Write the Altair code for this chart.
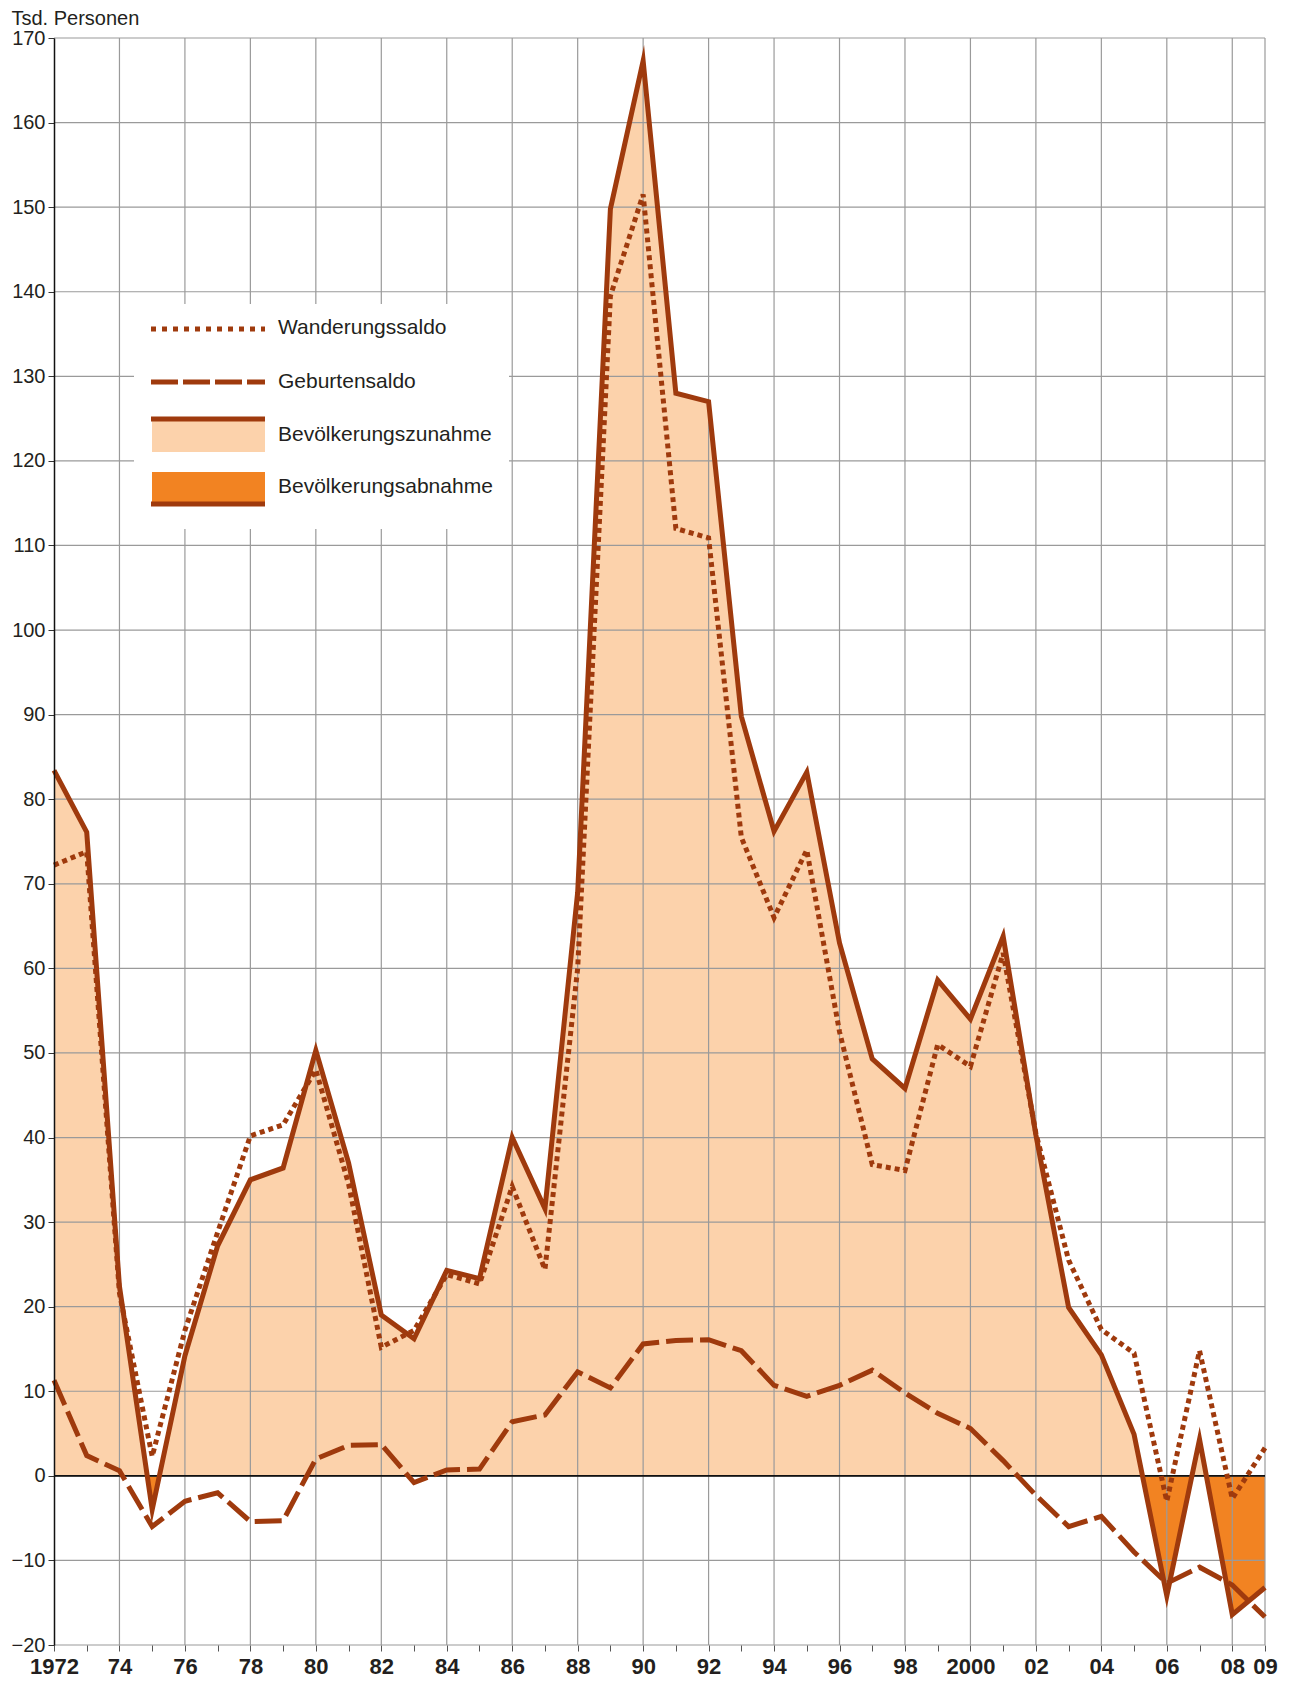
import altair as alt
import pandas as pd

# ---------------- data (Tsd. Personen) ----------------
years = list(range(1972, 2010))

bevoelkerung = [83.4, 76.1, 22.4, -4.0, 14.2, 27.2, 35.0, 36.4, 50.3, 37.0,
                19.0, 16.2, 24.3, 23.3, 40.0, 31.6, 69.0, 149.8, 167.3, 128.0,
                127.0, 89.8, 76.2, 83.2, 63.0, 49.3, 45.8, 58.6, 54.0, 63.8,
                40.3, 19.9, 14.3, 4.9, -14.2, 4.3, -16.4, -13.2]

wanderung = [72.2, 73.8, 21.6, 2.3, 17.2, 28.8, 40.2, 41.5, 48.0, 34.5,
             15.2, 17.2, 23.8, 22.7, 34.2, 24.4, 60.0, 139.5, 151.5, 112.0,
             110.9, 75.5, 66.0, 74.0, 52.5, 36.8, 36.1, 51.0, 48.4, 61.8,
             40.5, 25.5, 17.3, 14.5, -3.0, 14.8, -2.7, 3.3]

geburten = [11.3, 2.4, 0.6, -6.0, -3.0, -2.0, -5.4, -5.3, 2.0, 3.6,
            3.7, -0.8, 0.7, 0.8, 6.4, 7.2, 12.3, 10.4, 15.6, 16.0,
            16.1, 14.8, 10.7, 9.4, 10.7, 12.5, 9.8, 7.4, 5.6, 1.8,
            -2.3, -6.0, -4.8, -9.0, -12.7, -10.8, -12.9, -16.7]

y_ticks = list(range(-20, 171, 10))
grid_years = [y for y in years if y % 2 == 0 and y > 1972] + [2009]
legend_labels = ["Wanderungssaldo", "Geburtensaldo",
                 "Bevölkerungszunahme", "Bevölkerungsabnahme"]

df = pd.DataFrame({"Jahr": years, "Veraenderung": bevoelkerung,
                   "Wanderungssaldo": wanderung, "Geburtensaldo": geburten})

# ---------------- styles ----------------
LINE = "#9F3A0D"
PEACH = "#FCD2AB"
ORANGE = "#F28322"
GRID = "#9a9a9a"
TEXT = "#231f20"
FONT = "Liberation Sans"
LW = 5

x_scale = alt.Scale(domain=[1972, 2009], nice=False, zero=False)
y_scale = alt.Scale(domain=[-20, 170], nice=False, zero=False)

label_expr = ("datum.value == 1972 || datum.value == 2000 ? toString(datum.value) : "
              "(datum.value % 2 == 0 || datum.value == 2009) ? "
              "substring(toString(datum.value), 2, 4) : ''")

x_axis = alt.Axis(values=years, labelExpr=label_expr, grid=False, domain=False,
                  ticks=True, tickSize=6, tickColor="#555", tickWidth=1,
                  labelFont=FONT, labelFontSize=22, labelFontWeight="bold",
                  labelColor=TEXT, labelPadding=22, labelBaseline="alphabetic",
                  labelOverlap=False, labelFlush=False, title=None, zindex=1)

y_axis = alt.Axis(values=y_ticks, grid=False, domain=True, domainColor="#111",
                  domainWidth=1.5, ticks=True, tickSize=6, tickColor="#333",
                  tickWidth=1, labelFont=FONT, labelFontSize=20, labelColor=TEXT,
                  labelPadding=3, title="Tsd. Personen", titleAngle=0,
                  titleX=-43, titleY=-14, titleAlign="left",
                  titleBaseline="alphabetic", titleFont=FONT, titleFontSize=20,
                  titleFontWeight="normal", titleColor=TEXT, zindex=1)

X = alt.X("Jahr:Q", scale=x_scale, axis=x_axis)

# gradient that switches from peach (above 0) to orange (below 0)
top = max(max(bevoelkerung), 0)
bot = min(min(bevoelkerung), 0)
f = top / (top - bot)
fill_grad = alt.Gradient(
    gradient="linear", x1=0, x2=0, y1=0, y2=1,
    stops=[alt.GradientStop(color=PEACH, offset=0),
           alt.GradientStop(color=PEACH, offset=f),
           alt.GradientStop(color=ORANGE, offset=f),
           alt.GradientStop(color=ORANGE, offset=1)])

area = alt.Chart(df).mark_area(color=fill_grad, line=False).encode(
    x=X,
    y=alt.Y("Veraenderung:Q", scale=y_scale, axis=y_axis),
    y2=alt.datum(0),
)

hgrid = alt.Chart(pd.DataFrame({"v": y_ticks})).mark_rule(
    color=GRID, strokeWidth=1.2).encode(
    y=alt.Y("v:Q", scale=y_scale, axis=y_axis))

vgrid = alt.Chart(pd.DataFrame({"g": grid_years})).mark_rule(
    color=GRID, strokeWidth=1.2).encode(
    x=alt.X("g:Q", scale=x_scale, axis=x_axis))

zero = alt.Chart(pd.DataFrame({"z": [0]})).mark_rule(
    color="#111", strokeWidth=1.6).encode(
    y=alt.Y("z:Q", scale=y_scale, axis=y_axis))

dashed = alt.Chart(df).mark_line(color=LINE, strokeWidth=LW, strokeDash=[27, 7],
                                 strokeJoin="miter", strokeCap="butt").encode(
    x=X, y=alt.Y("Geburtensaldo:Q", scale=y_scale, axis=y_axis))

dotted = alt.Chart(df).mark_line(color=LINE, strokeWidth=LW, strokeDash=[5, 4],
                                 strokeJoin="miter", strokeCap="butt").encode(
    x=X, y=alt.Y("Wanderungssaldo:Q", scale=y_scale, axis=y_axis))

solid = alt.Chart(df).mark_line(color=LINE, strokeWidth=LW,
                                strokeJoin="miter", strokeMiterLimit=10).encode(
    x=X, y=alt.Y("Veraenderung:Q", scale=y_scale, axis=y_axis))

# ---------------- custom legend ----------------
one = alt.Data(values=[{"k": 1}])

leg_box = alt.Chart(one).mark_rect(color="white").encode(
    x=alt.value(80), x2=alt.value(455), y=alt.value(266), y2=alt.value(491))

leg_dot = alt.Chart(one).mark_rule(color=LINE, strokeWidth=LW,
                                   strokeDash=[5, 6], strokeCap="butt").encode(
    x=alt.value(97), x2=alt.value(211), y=alt.value(291))

leg_dash = alt.Chart(one).mark_rule(color=LINE, strokeWidth=LW,
                                    strokeDash=[27, 5], strokeCap="butt").encode(
    x=alt.value(97), x2=alt.value(211), y=alt.value(344))

leg_zu_rect = alt.Chart(one).mark_rect(color=PEACH).encode(
    x=alt.value(98), x2=alt.value(211), y=alt.value(383), y2=alt.value(414))
leg_zu_line = alt.Chart(one).mark_rule(color=LINE, strokeWidth=5).encode(
    x=alt.value(97), x2=alt.value(211), y=alt.value(381))

leg_ab_rect = alt.Chart(one).mark_rect(color=ORANGE).encode(
    x=alt.value(98), x2=alt.value(211), y=alt.value(434), y2=alt.value(464))
leg_ab_line = alt.Chart(one).mark_rule(color=LINE, strokeWidth=5).encode(
    x=alt.value(97), x2=alt.value(211), y=alt.value(466))

leg_texts = []
for lab, yy in zip(legend_labels, [290, 344, 397, 449]):
    leg_texts.append(
        alt.Chart(alt.Data(values=[{"label": lab}])).mark_text(
            align="left", baseline="middle", font=FONT, fontSize=21,
            color=TEXT).encode(
            x=alt.value(224), y=alt.value(yy), text="label:N"))

chart = alt.layer(
    area, hgrid, vgrid, leg_box, leg_dot, leg_dash, leg_zu_rect, leg_zu_line,
    leg_ab_rect, leg_ab_line, *leg_texts, zero, dashed, dotted, solid
).properties(
    width=1211, height=1607,
    autosize=alt.AutoSizeParams(type="none"),
    padding={"left": 46, "top": 30, "right": 20, "bottom": 37},
    background="white",
).configure_view(stroke=None)

chart.save("out.html", embed_options={"renderer": "svg", "actions": False})
